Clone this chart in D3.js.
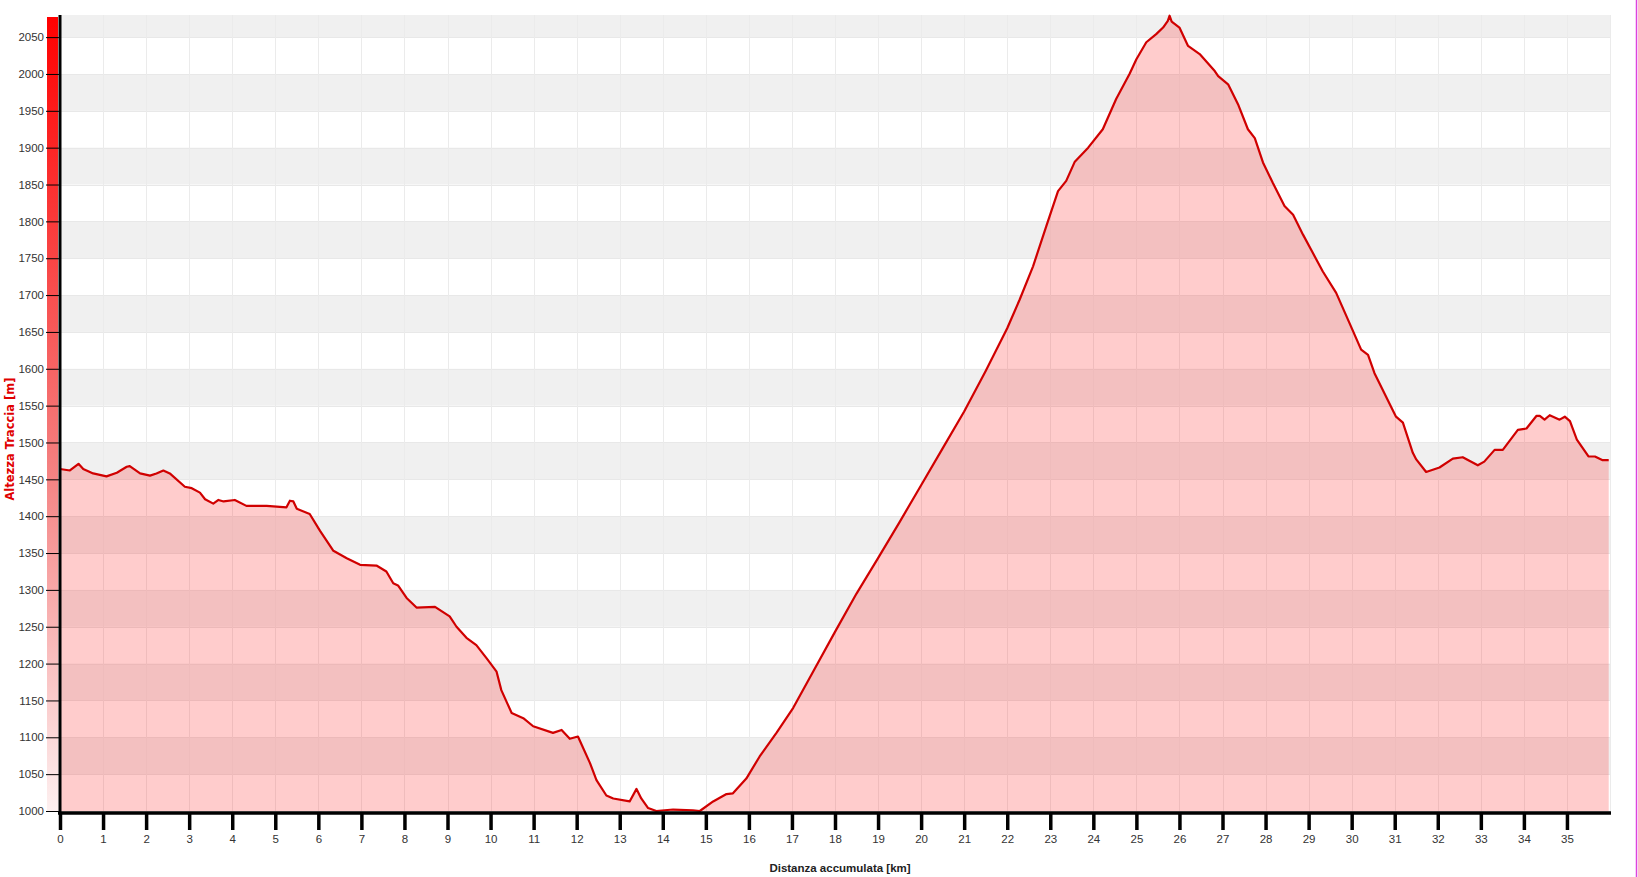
<!DOCTYPE html>
<html><head><meta charset="utf-8">
<script src="https://cdn.jsdelivr.net/npm/d3@7"></script>
<style>html,body{margin:0;padding:0;background:#fff;overflow:hidden}</style>
</head><body>
<svg id="c" width="1638" height="877"></svg>
<script>
const distanceKm = [0,0.23,0.43,0.54,0.77,1.08,1.32,1.55,1.62,1.86,
2.09,2.24,2.4,2.55,2.9,3.06,3.25,3.37,3.56,3.68,
3.8,4.06,4.33,4.8,5.26,5.34,5.42,5.5,5.8,6.04,
6.35,6.66,6.97,7.35,7.58,7.74,7.85,8.05,8.28,8.71,
9.05,9.21,9.44,9.67,9.91,10.14,10.25,10.49,10.76,10.99,
11.45,11.65,11.84,12.03,12.31,12.46,12.69,12.85,13.23,13.39,
13.5,13.66,13.85,14.24,14.7,14.86,15.17,15.48,15.63,15.94,
16.25,16.64,17.03,17.5,18.0,18.5,19.0,19.5,20.0,20.5,
21.0,21.5,22.0,22.29,22.6,22.91,23.18,23.37,23.57,23.88,
24.22,24.53,24.84,25.0,25.23,25.46,25.62,25.73,25.77,25.82,
26.0,26.2,26.47,26.82,26.9,27.13,27.36,27.59,27.75,27.94,
28.17,28.44,28.64,28.87,29.1,29.33,29.64,29.95,30.22,30.38,
30.53,30.8,31.03,31.19,31.42,31.5,31.73,32.04,32.35,32.58,
32.93,33.08,33.32,33.51,33.86,34.06,34.29,34.37,34.48,34.6,
34.83,34.95,35.07,35.23,35.5,35.65,35.83,35.97];
const elevationM = [1464,1462,1471,1464,1458,1454,1459,1467,1468,1458,
1455,1458,1462,1458,1440,1438,1432,1423,1417,1422,
1420,1422,1414,1414,1412,1421,1420,1410,1403,1380,
1353,1343,1334,1333,1325,1309,1306,1289,1276,1277,
1264,1250,1235,1225,1207,1189,1164,1133,1126,1115,
1106,1110,1098,1101,1065,1042,1021,1017,1013,1030,
1017,1004,1000,1002,1001,1000,1013,1023,1024,1044,
1074,1106,1140,1190,1243,1295,1343,1392,1442,1492,
1542,1597,1655,1694,1739,1794,1841,1855,1881,1900,
1925,1966,2000,2020,2043,2054,2063,2072,2079,2071,
2063,2038,2027,2004,1997,1986,1959,1925,1913,1880,
1852,1821,1809,1782,1757,1732,1703,1662,1626,1619,
1594,1562,1535,1527,1486,1477,1460,1466,1478,1480,
1469,1474,1490,1490,1517,1519,1536,1536,1531,1537,
1531,1535,1529,1504,1481,1481,1476,1476];
const xTicks = d3.range(0, 36, 1);
const yTicks = d3.range(1000, 2051, 50);
const xTitle = "Distanza accumulata [km]";
const yTitle = "Altezza Traccia [m]";

const data = distanceKm.map((d, i) => ({d, e: elevationM[i]}));
const svg = d3.select("#c");
const x = d3.scaleLinear().domain([0, 36]).range([60, 1610]);
const y = d3.scaleLinear().domain([1000, 2080]).range([811, 15]);
const font = "'Liberation Sans', Arial, sans-serif";

// bands
const bandEdges = d3.range(1000, 2080, 50);
svg.append("g").selectAll("rect").data(bandEdges.filter(v => (v / 50) % 2 === 1))
  .join("rect")
  .attr("x", x(0)).attr("width", x(36) - x(0))
  .attr("y", v => y(Math.min(v + 50, 2080)))
  .attr("height", v => y(v) - y(Math.min(v + 50, 2080)))
  .attr("fill", "#f0f0f0");
svg.append("g").selectAll("line").data(yTicks).join("line")
  .attr("x1", x(0)).attr("x2", x(36))
  .attr("y1", v => Math.round(y(v)) + 0.5).attr("y2", v => Math.round(y(v)) + 0.5)
  .attr("stroke", "#e8e8e8").attr("stroke-width", 1);
// vertical grid
svg.append("g").selectAll("line").data(d3.range(1, 37)).join("line")
  .attr("x1", v => Math.round(x(v)) + 0.5).attr("x2", v => Math.round(x(v)) + 0.5)
  .attr("y1", y(2080)).attr("y2", y(1000))
  .attr("stroke", "#ebebeb").attr("stroke-width", 1);

// area + line
svg.append("path").datum(data)
  .attr("d", d3.area().x(p => x(p.d)).y0(y(1000)).y1(p => y(p.e)))
  .attr("fill", "rgba(255,0,0,0.2)");
svg.append("path").datum(data)
  .attr("d", d3.line().x(p => x(p.d)).y(p => y(p.e)))
  .attr("fill", "none").attr("stroke", "#d00000").attr("stroke-width", 2.2)
  .attr("stroke-linejoin", "round");

// gradient bar
const defs = svg.append("defs");
const g = defs.append("linearGradient").attr("id", "rg").attr("x1", 0).attr("x2", 0).attr("y1", 0).attr("y2", 1);
g.append("stop").attr("offset", "0%").attr("stop-color", "#ff0000");
g.append("stop").attr("offset", "55%").attr("stop-color", "#f47c7c");
g.append("stop").attr("offset", "100%").attr("stop-color", "#fdf0f0");
svg.append("rect").attr("x", 47).attr("y", 17).attr("width", 11).attr("height", y(1000) - 17)
  .attr("fill", "url(#rg)");

// y axis
const yAxis = d3.axisLeft(y).tickValues(yTicks).tickSize(13).tickPadding(2).tickFormat(d3.format("d"));
const ya = svg.append("g").attr("transform", "translate(59,0)").call(yAxis);
ya.select(".domain").remove();
ya.selectAll(".tick line").attr("stroke", "#000").attr("stroke-width", 1);
ya.selectAll(".tick text").attr("font-family", font).attr("font-size", 11.5).attr("fill", "#333");
svg.append("line").attr("x1", 60).attr("x2", 60).attr("y1", 15).attr("y2", 814)
  .attr("stroke", "#000").attr("stroke-width", 3);

// x axis
const xAxis = d3.axisBottom(x).tickValues(xTicks).tickSize(18).tickPadding(5).tickFormat(d3.format("d"));
const xa = svg.append("g").attr("transform", "translate(0,812)").call(xAxis);
xa.select(".domain").remove();
xa.selectAll(".tick line").attr("stroke", "#000").attr("stroke-width", 3.5);
xa.selectAll(".tick text").attr("font-family", font).attr("font-size", 11.5).attr("fill", "#333");
svg.append("line").attr("x1", 58).attr("x2", 1611).attr("y1", 813).attr("y2", 813)
  .attr("stroke", "#000").attr("stroke-width", 3.5);

// titles
svg.append("text").attr("x", 840).attr("y", 872).attr("text-anchor", "middle")
  .attr("font-family", font).attr("font-weight", "bold").attr("font-size", 11.5)
  .attr("fill", "#222").text(xTitle);
svg.append("text").attr("transform", "translate(14,439) rotate(-90)").attr("text-anchor", "middle")
  .attr("font-family", "'DejaVu Sans', sans-serif").attr("font-weight", "bold").attr("font-size", 11.5)
  .attr("fill", "#e00000").text(yTitle);

// right frame line
svg.append("line").attr("x1", 1636.5).attr("x2", 1636.5).attr("y1", 0).attr("y2", 877)
  .attr("stroke", "#dd44dd").attr("stroke-width", 1.5);
</script>
</body></html>
